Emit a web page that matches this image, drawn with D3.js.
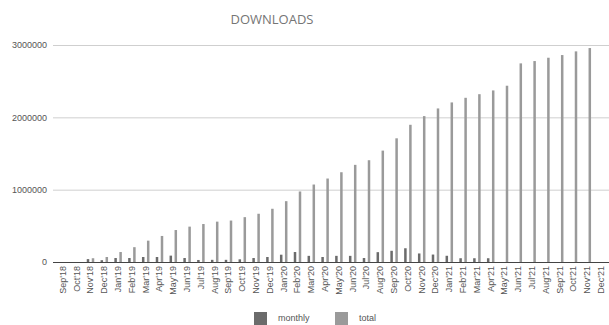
<!DOCTYPE html>
<html>
<head>
<meta charset="utf-8">
<script src="https://cdn.jsdelivr.net/npm/d3@7"></script>
<style>
  html, body { margin: 0; padding: 0; background: #fff; }
  svg { display: block; }
</style>
</head>
<body>
<svg id="chart" width="609" height="325"></svg>
<script>
// Month labels along the x axis
const months = [
  "Sep'18","Oct'18","Nov'18","Dec'18",
  "Jan'19","Feb'19","Mar'19","Apr'19","May'19","Jun'19","Jul'19","Aug'19","Sep'19","Oct'19","Nov'19","Dec'19",
  "Jan'20","Feb'20","Mar'20","Apr'20","May'20","Jun'20","Jul'20","Aug'20","Sep'20","Oct'20","Nov'20","Dec'20",
  "Jan'21","Feb'21","Mar'21","Apr'21","May'21","Jun'21","Jul'21","Aug'21","Sep'21","Oct'21","Nov'21","Dec'21"
];

// Downloads per month
const monthly = [
  0, 0, 40000, 25000,
  55000, 55000, 69000, 69000, 88000, 55000, 28000, 30000, 30000, 37000, 55000, 69000,
  101000, 138000, 85000, 69000, 85000, 85000, 55000, 136000, 155000, 190000, 118000, 103000,
  86000, 52000, 52000, 52000, 0, 0, 0, 0, 0, 0, 0, 0
];

// Cumulative downloads
const total = [
  0, 0, 52000, 69000,
  138000, 205000, 295000, 360000, 442000, 489000, 525000, 558000, 573000, 620000, 667000, 736000,
  841000, 975000, 1071000, 1154000, 1241000, 1343000, 1407000, 1540000, 1710000, 1897000, 2017000, 2123000,
  2206000, 2270000, 2320000, 2372000, 2437000, 2746000, 2778000, 2824000, 2861000, 2912000, 2958000, 0
];

const yTicks = [0, 1000000, 2000000, 3000000];
const seriesNames = ["monthly", "total"];
const seriesColors = { monthly: "#6b6b6b", total: "#9a9a9a" };

const svg = d3.select("#chart");

const x = d3.scaleBand().domain(months).range([56, 608]);
const xInner = d3.scaleBand().domain(seriesNames).range([0, 10]).paddingInner(0.5).paddingOuter(0.25);
const y = d3.scaleLinear().domain([0, 3000000]).range([262, 45]);

// Title
svg.append("text")
  .attr("x", 272).attr("y", 24)
  .attr("text-anchor", "middle")
  .attr("font-family", "Open Sans, Liberation Sans, sans-serif")
  .attr("font-size", 13)
  .attr("fill", "#757575")
  .text("DOWNLOADS");

// Horizontal gridlines and y labels
const yAxis = d3.axisLeft(y).tickValues(yTicks).tickSize(0).tickPadding(6).tickFormat(d3.format("d"));
const gy = svg.append("g").attr("transform", "translate(53,0)").call(yAxis);
gy.select(".domain").remove();
gy.selectAll("text")
  .attr("font-family", "Liberation Sans, Arial, sans-serif")
  .attr("font-size", 9)
  .attr("fill", "#555");

svg.append("g").selectAll("line")
  .data(yTicks.filter(d => d > 0))
  .join("line")
  .attr("x1", 53).attr("x2", 609)
  .attr("y1", d => y(d) + 0.5).attr("y2", d => y(d) + 0.5)
  .attr("stroke", "#cfcfcf").attr("stroke-width", 1);

// Bars
const rows = months.map((m, i) => ({ m, monthly: monthly[i], total: total[i] }));
const groups = svg.append("g").selectAll("g")
  .data(rows)
  .join("g")
  .attr("transform", d => `translate(${x(d.m) + x.bandwidth() / 2 - 5},0)`);

groups.selectAll("rect")
  .data(d => seriesNames.map(k => ({ k, v: d[k] })))
  .join("rect")
  .attr("x", d => xInner(d.k))
  .attr("width", xInner.bandwidth())
  .attr("y", d => y(d.v))
  .attr("height", d => y(0) - y(d.v))
  .attr("fill", d => seriesColors[d.k]);

// Baseline
svg.append("line")
  .attr("x1", 53).attr("x2", 609)
  .attr("y1", y(0) + 0.5).attr("y2", y(0) + 0.5)
  .attr("stroke", "#444").attr("stroke-width", 1.2);

// X labels, rotated
const xAxis = d3.axisBottom(x).tickSize(0).tickPadding(0);
const gx = svg.append("g").attr("transform", `translate(0,${y(0)})`).call(xAxis);
gx.select(".domain").remove();
gx.selectAll("text")
  .attr("font-family", "Liberation Sans, Arial, sans-serif")
  .attr("font-size", 9)
  .attr("fill", "#555")
  .attr("text-anchor", "end")
  .attr("dy", "0.32em")
  .attr("transform", "translate(0,4) rotate(-90)")
  .attr("x", 0).attr("y", 0);

// Legend
const legendItems = [
  { k: "monthly", x: 254, tx: 278 },
  { k: "total", x: 335, tx: 359 }
];
const lg = svg.append("g");
lg.selectAll("rect")
  .data(legendItems).join("rect")
  .attr("x", d => d.x).attr("y", 312)
  .attr("width", 13).attr("height", 13)
  .attr("fill", d => seriesColors[d.k]);
lg.selectAll("text")
  .data(legendItems).join("text")
  .attr("x", d => d.tx).attr("y", 321)
  .attr("font-family", "Liberation Sans, Arial, sans-serif")
  .attr("font-size", 9)
  .attr("fill", "#555")
  .text(d => d.k);
</script>
</body>
</html>
